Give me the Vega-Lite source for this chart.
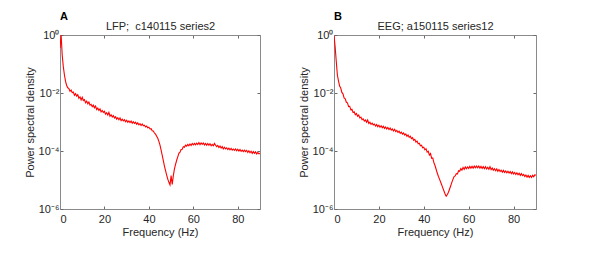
{
  "$schema": "https://vega.github.io/schema/vega-lite/v6.json",
  "background": "white",
  "padding": {"left": 24, "top": 11, "right": 5, "bottom": 5},
  "bounds": "flush",
  "spacing": 74,
  "config": {
    "font": "Liberation Sans",
    "view": {"stroke": null},
    "axis": {
      "grid": false,
      "domainColor": "#8a8a8a",
      "domainWidth": 1,
      "tickColor": "#6a6a6a",
      "tickSize": -3,
      "labelColor": "#262626",
      "titleColor": "#262626",
      "labelFontSize": 11,
      "titleFontSize": 11,
      "titleFontWeight": "normal",
      "labelFont": "Liberation Sans",
      "titleFont": "Liberation Sans"
    },
    "title": {"font": "Liberation Sans", "fontSize": 11, "fontWeight": "bold", "color": "#000000", "anchor": "start", "frame": "group", "baseline": "alphabetic", "offset": 0}
  },
  "datasets": {
    "lfp": [
      {"f":0,"psd":0.355},{"f":0.5,"psd":1.0},{"f":1,"psd":0.2},{"f":1.5,"psd":0.07943},{"f":2,"psd":0.04169},{"f":2.5,"psd":0.02512},{"f":3,"psd":0.0182},{"f":3.5,"psd":0.01514},{"f":4,"psd":0.01413},{"f":4.5,"psd":0.01148},
      {"f":5,"psd":0.01259},{"f":5.5,"psd":0.01023},{"f":6,"psd":0.01072},{"f":6.5,"psd":8.318e-3},{"f":7,"psd":9.55e-3},{"f":7.5,"psd":7.762e-3},{"f":8,"psd":8.71e-3},{"f":8.5,"psd":6.607e-3},{"f":9,"psd":7.413e-3},{"f":9.5,"psd":5.754e-3},
      {"f":10,"psd":7.079e-3},{"f":10.5,"psd":5.495e-3},{"f":11,"psd":5.888e-3},{"f":11.5,"psd":4.571e-3},{"f":12,"psd":5.248e-3},{"f":12.5,"psd":4.266e-3},{"f":13,"psd":4.898e-3},{"f":13.5,"psd":3.802e-3},{"f":14,"psd":4.074e-3},{"f":14.5,"psd":3.388e-3},
      {"f":15,"psd":3.802e-3},{"f":15.5,"psd":3.09e-3},{"f":16,"psd":3.548e-3},{"f":16.5,"psd":2.692e-3},{"f":17,"psd":3.02e-3},{"f":17.5,"psd":2.512e-3},{"f":18,"psd":2.818e-3},{"f":18.5,"psd":2.239e-3},{"f":19,"psd":2.512e-3},{"f":19.5,"psd":2.138e-3},
      {"f":20,"psd":2.344e-3},{"f":20.5,"psd":1.862e-3},{"f":21,"psd":2.089e-3},{"f":21.5,"psd":1.738e-3},{"f":22,"psd":2.138e-3},{"f":22.5,"psd":1.585e-3},{"f":23,"psd":1.778e-3},{"f":23.5,"psd":1.479e-3},{"f":24,"psd":1.66e-3},{"f":24.5,"psd":1.38e-3},
      {"f":25,"psd":1.514e-3},{"f":25.5,"psd":1.259e-3},{"f":26,"psd":1.413e-3},{"f":26.5,"psd":1.202e-3},{"f":27,"psd":1.38e-3},{"f":27.5,"psd":1.122e-3},{"f":28,"psd":1.259e-3},{"f":28.5,"psd":1.096e-3},{"f":29,"psd":1.202e-3},{"f":29.5,"psd":1.023e-3},
      {"f":30,"psd":1.148e-3},{"f":30.5,"psd":9.772e-4},{"f":31,"psd":1.096e-3},{"f":31.5,"psd":9.55e-4},{"f":32,"psd":1.072e-3},{"f":32.5,"psd":9.12e-4},{"f":33,"psd":1.023e-3},{"f":33.5,"psd":8.913e-4},{"f":34,"psd":9.772e-4},{"f":34.5,"psd":8.318e-4},
      {"f":35,"psd":9.333e-4},{"f":35.5,"psd":7.943e-4},{"f":36,"psd":8.71e-4},{"f":36.5,"psd":7.586e-4},{"f":37,"psd":8.511e-4},{"f":37.5,"psd":7.413e-4},{"f":38,"psd":7.762e-4},{"f":38.5,"psd":6.761e-4},{"f":39,"psd":7.244e-4},{"f":39.5,"psd":6.31e-4},
      {"f":40,"psd":6.607e-4},{"f":40.5,"psd":5.754e-4},{"f":41,"psd":5.888e-4},{"f":41.5,"psd":5.012e-4},{"f":42,"psd":4.898e-4},{"f":42.5,"psd":4.169e-4},{"f":43,"psd":3.802e-4},{"f":43.5,"psd":3.236e-4},{"f":44,"psd":2.754e-4},{"f":44.5,"psd":2.138e-4},
      {"f":45,"psd":1.585e-4},{"f":45.5,"psd":1.072e-4},{"f":46,"psd":7.079e-5},{"f":46.5,"psd":4.677e-5},{"f":47,"psd":3.02e-5},{"f":47.5,"psd":2.089e-5},{"f":48,"psd":1.479e-5},{"f":48.5,"psd":1.072e-5},{"f":49,"psd":8.318e-6},{"f":49.5,"psd":6.761e-6},
      {"f":50,"psd":1.413e-5},{"f":50.5,"psd":7.079e-6},{"f":51,"psd":1.413e-5},{"f":51.5,"psd":2.399e-5},{"f":52,"psd":3.467e-5},{"f":52.5,"psd":4.786e-5},{"f":53,"psd":6.31e-5},{"f":53.5,"psd":8.318e-5},{"f":54,"psd":9.12e-5},{"f":54.5,"psd":1.122e-4},
      {"f":55,"psd":1.148e-4},{"f":55.5,"psd":1.413e-4},{"f":56,"psd":1.349e-4},{"f":56.5,"psd":1.585e-4},{"f":57,"psd":1.479e-4},{"f":57.5,"psd":1.698e-4},{"f":58,"psd":1.514e-4},{"f":58.5,"psd":1.738e-4},{"f":59,"psd":1.549e-4},{"f":59.5,"psd":1.82e-4},
      {"f":60,"psd":1.622e-4},{"f":60.5,"psd":1.82e-4},{"f":61,"psd":1.622e-4},{"f":61.5,"psd":1.862e-4},{"f":62,"psd":1.66e-4},{"f":62.5,"psd":1.95e-4},{"f":63,"psd":1.66e-4},{"f":63.5,"psd":1.905e-4},{"f":64,"psd":1.698e-4},{"f":64.5,"psd":1.905e-4},
      {"f":65,"psd":1.622e-4},{"f":65.5,"psd":1.82e-4},{"f":66,"psd":1.585e-4},{"f":66.5,"psd":1.82e-4},{"f":67,"psd":1.585e-4},{"f":67.5,"psd":1.778e-4},{"f":68,"psd":1.514e-4},{"f":68.5,"psd":1.698e-4},{"f":69,"psd":1.514e-4},{"f":69.5,"psd":1.82e-4},
      {"f":70,"psd":1.585e-4},{"f":70.5,"psd":1.413e-4},{"f":71,"psd":1.549e-4},{"f":71.5,"psd":1.318e-4},{"f":72,"psd":1.479e-4},{"f":72.5,"psd":1.259e-4},{"f":73,"psd":1.413e-4},{"f":73.5,"psd":1.175e-4},{"f":74,"psd":1.349e-4},{"f":74.5,"psd":1.175e-4},
      {"f":75,"psd":1.288e-4},{"f":75.5,"psd":1.122e-4},{"f":76,"psd":1.259e-4},{"f":76.5,"psd":1.096e-4},{"f":77,"psd":1.23e-4},{"f":77.5,"psd":1.072e-4},{"f":78,"psd":1.175e-4},{"f":78.5,"psd":1.047e-4},{"f":79,"psd":1.175e-4},{"f":79.5,"psd":1.023e-4},
      {"f":80,"psd":1.148e-4},{"f":80.5,"psd":1.0e-4},{"f":81,"psd":1.122e-4},{"f":81.5,"psd":9.772e-5},{"f":82,"psd":1.072e-4},{"f":82.5,"psd":9.55e-5},{"f":83,"psd":1.072e-4},{"f":83.5,"psd":9.55e-5},{"f":84,"psd":1.047e-4},{"f":84.5,"psd":8.913e-5},
      {"f":85,"psd":1.023e-4},{"f":85.5,"psd":8.71e-5},{"f":86,"psd":9.772e-5},{"f":86.5,"psd":8.318e-5},{"f":87,"psd":9.55e-5},{"f":87.5,"psd":8.318e-5},{"f":88,"psd":9.333e-5},{"f":88.5,"psd":7.943e-5},{"f":89,"psd":8.913e-5},{"f":89.5,"psd":7.943e-5},
      {"f":90,"psd":8.318e-5}
    ],
    "eeg": [
      {"f":0,"psd":0.955},{"f":0.5,"psd":0.398},{"f":1,"psd":0.1259},{"f":1.5,"psd":0.04169},{"f":2,"psd":0.0263},{"f":2.5,"psd":0.01738},{"f":3,"psd":0.01479},{"f":3.5,"psd":0.01047},{"f":4,"psd":9.333e-3},{"f":4.5,"psd":6.761e-3},
      {"f":5,"psd":6.31e-3},{"f":5.5,"psd":4.786e-3},{"f":6,"psd":4.571e-3},{"f":6.5,"psd":3.388e-3},{"f":7,"psd":3.467e-3},{"f":7.5,"psd":2.63e-3},{"f":8,"psd":2.754e-3},{"f":8.5,"psd":2.138e-3},{"f":9,"psd":2.239e-3},{"f":9.5,"psd":1.778e-3},
      {"f":10,"psd":1.95e-3},{"f":10.5,"psd":1.585e-3},{"f":11,"psd":1.738e-3},{"f":11.5,"psd":1.38e-3},{"f":12,"psd":1.479e-3},{"f":12.5,"psd":1.202e-3},{"f":13,"psd":1.288e-3},{"f":13.5,"psd":1.072e-3},{"f":14,"psd":1.175e-3},{"f":14.5,"psd":9.772e-4},
      {"f":15,"psd":1.175e-3},{"f":15.5,"psd":8.913e-4},{"f":16,"psd":9.772e-4},{"f":16.5,"psd":8.318e-4},{"f":17,"psd":9.12e-4},{"f":17.5,"psd":7.943e-4},{"f":18,"psd":8.511e-4},{"f":18.5,"psd":7.244e-4},{"f":19,"psd":8.128e-4},{"f":19.5,"psd":6.918e-4},
      {"f":20,"psd":7.762e-4},{"f":20.5,"psd":6.607e-4},{"f":21,"psd":7.413e-4},{"f":21.5,"psd":6.31e-4},{"f":22,"psd":7.079e-4},{"f":22.5,"psd":6.026e-4},{"f":23,"psd":6.761e-4},{"f":23.5,"psd":5.754e-4},{"f":24,"psd":6.457e-4},{"f":24.5,"psd":5.495e-4},
      {"f":25,"psd":6.166e-4},{"f":25.5,"psd":5.248e-4},{"f":26,"psd":5.754e-4},{"f":26.5,"psd":4.898e-4},{"f":27,"psd":5.623e-4},{"f":27.5,"psd":4.677e-4},{"f":28,"psd":5.129e-4},{"f":28.5,"psd":4.365e-4},{"f":29,"psd":4.786e-4},{"f":29.5,"psd":4.074e-4},
      {"f":30,"psd":4.467e-4},{"f":30.5,"psd":3.802e-4},{"f":31,"psd":4.169e-4},{"f":31.5,"psd":3.548e-4},{"f":32,"psd":3.89e-4},{"f":32.5,"psd":3.236e-4},{"f":33,"psd":3.548e-4},{"f":33.5,"psd":2.951e-4},{"f":34,"psd":3.236e-4},{"f":34.5,"psd":2.692e-4},
      {"f":35,"psd":2.884e-4},{"f":35.5,"psd":2.344e-4},{"f":36,"psd":2.512e-4},{"f":36.5,"psd":2.042e-4},{"f":37,"psd":2.188e-4},{"f":37.5,"psd":1.778e-4},{"f":38,"psd":1.862e-4},{"f":38.5,"psd":1.514e-4},{"f":39,"psd":1.585e-4},{"f":39.5,"psd":1.288e-4},
      {"f":40,"psd":1.349e-4},{"f":40.5,"psd":1.096e-4},{"f":41,"psd":1.202e-4},{"f":41.5,"psd":9.12e-5},{"f":42,"psd":9.772e-5},{"f":42.5,"psd":7.244e-5},{"f":43,"psd":8.128e-5},{"f":43.5,"psd":5.623e-5},{"f":44,"psd":5.754e-5},{"f":44.5,"psd":3.981e-5},
      {"f":45,"psd":3.162e-5},{"f":45.5,"psd":2.344e-5},{"f":46,"psd":1.738e-5},{"f":46.5,"psd":1.349e-5},{"f":47,"psd":1.072e-5},{"f":47.5,"psd":8.511e-6},{"f":48,"psd":6.761e-6},{"f":48.5,"psd":5.248e-6},{"f":49,"psd":4.169e-6},{"f":49.5,"psd":3.311e-6},
      {"f":50,"psd":2.754e-6},{"f":50.5,"psd":3.162e-6},{"f":51,"psd":3.802e-6},{"f":51.5,"psd":4.898e-6},{"f":52,"psd":6.31e-6},{"f":52.5,"psd":8.318e-6},{"f":53,"psd":1.047e-5},{"f":53.5,"psd":1.318e-5},{"f":54,"psd":1.38e-5},{"f":54.5,"psd":1.66e-5},
      {"f":55,"psd":1.622e-5},{"f":55.5,"psd":2.089e-5},{"f":56,"psd":1.995e-5},{"f":56.5,"psd":2.455e-5},{"f":57,"psd":2.188e-5},{"f":57.5,"psd":2.692e-5},{"f":58,"psd":2.344e-5},{"f":58.5,"psd":2.818e-5},{"f":59,"psd":2.455e-5},{"f":59.5,"psd":2.818e-5},
      {"f":60,"psd":2.512e-5},{"f":60.5,"psd":2.951e-5},{"f":61,"psd":2.57e-5},{"f":61.5,"psd":2.951e-5},{"f":62,"psd":2.57e-5},{"f":62.5,"psd":3.02e-5},{"f":63,"psd":2.63e-5},{"f":63.5,"psd":3.02e-5},{"f":64,"psd":2.63e-5},{"f":64.5,"psd":3.02e-5},
      {"f":65,"psd":2.57e-5},{"f":65.5,"psd":2.951e-5},{"f":66,"psd":2.512e-5},{"f":66.5,"psd":2.884e-5},{"f":67,"psd":2.455e-5},{"f":67.5,"psd":2.884e-5},{"f":68,"psd":2.399e-5},{"f":68.5,"psd":2.754e-5},{"f":69,"psd":2.344e-5},{"f":69.5,"psd":2.884e-5},
      {"f":70,"psd":2.291e-5},{"f":70.5,"psd":2.57e-5},{"f":71,"psd":2.188e-5},{"f":71.5,"psd":2.455e-5},{"f":72,"psd":2.089e-5},{"f":72.5,"psd":2.399e-5},{"f":73,"psd":1.995e-5},{"f":73.5,"psd":2.291e-5},{"f":74,"psd":1.95e-5},{"f":74.5,"psd":2.188e-5},
      {"f":75,"psd":1.862e-5},{"f":75.5,"psd":2.138e-5},{"f":76,"psd":1.82e-5},{"f":76.5,"psd":2.042e-5},{"f":77,"psd":1.778e-5},{"f":77.5,"psd":1.995e-5},{"f":78,"psd":1.738e-5},{"f":78.5,"psd":1.95e-5},{"f":79,"psd":1.66e-5},{"f":79.5,"psd":1.905e-5},
      {"f":80,"psd":1.622e-5},{"f":80.5,"psd":1.82e-5},{"f":81,"psd":1.549e-5},{"f":81.5,"psd":1.778e-5},{"f":82,"psd":1.514e-5},{"f":82.5,"psd":1.698e-5},{"f":83,"psd":1.445e-5},{"f":83.5,"psd":1.66e-5},{"f":84,"psd":1.413e-5},{"f":84.5,"psd":1.549e-5},
      {"f":85,"psd":1.318e-5},{"f":85.5,"psd":1.479e-5},{"f":86,"psd":1.259e-5},{"f":86.5,"psd":1.445e-5},{"f":87,"psd":1.23e-5},{"f":87.5,"psd":1.413e-5},{"f":88,"psd":1.23e-5},{"f":88.5,"psd":1.445e-5},{"f":89,"psd":1.288e-5},{"f":89.5,"psd":1.514e-5},
      {"f":90,"psd":1.445e-5}
    ]
  },
  "hconcat": [
    {
      "width": 200,
      "height": 174,
      "title": {"text": "A", "dy": 6},
      "data": {"name": "lfp"},
      "layer": [
        {
          "mark": {"type": "line", "color": "#ff0000", "strokeWidth": 1.1, "clip": true},
          "encoding": {
            "x": {"field": "f", "type": "quantitative", "scale": {"domain": [0, 90], "nice": false, "zero": false},
                  "axis": {"title": "Frequency (Hz)", "values": [0, 20, 40, 60, 80], "labelPadding": 7.5, "titlePadding": 2}},
            "y": {"field": "psd", "type": "quantitative", "scale": {"type": "log", "domain": [0.000001, 1], "nice": false},
                  "axis": {"title": "Power spectral density", "values": [0.000001, 0.0001, 0.01, 1], "labelPadding": 4, "titlePadding": 3,
                           "labelExpr": "datum.value > 0.5 ? '10⁰' : datum.value > 0.005 ? '10⁻²' : datum.value > 0.00005 ? '10⁻⁴' : '10⁻⁶'"}}
          }
        },
        {
          "mark": {"type": "line", "opacity": 0},
          "encoding": {
            "x": {"field": "f", "type": "quantitative", "scale": {"domain": [0, 90], "nice": false, "zero": false},
                  "axis": {"orient": "top", "title": "LFP;\u00a0 c140115 series2", "values": [0, 20, 40, 60, 80], "labels": false, "titleY": -6, "titleBaseline": "alphabetic"}},
            "y": {"field": "psd", "type": "quantitative", "scale": {"type": "log", "domain": [0.000001, 1], "nice": false},
                  "axis": {"orient": "right", "title": null, "values": [0.000001, 0.0001, 0.01, 1], "labels": false}}
          }
        }
      ],
      "resolve": {"axis": {"x": "independent", "y": "independent"}}
    },
    {
      "width": 202,
      "height": 174,
      "title": {"text": "B", "dy": 6},
      "data": {"name": "eeg"},
      "layer": [
        {
          "mark": {"type": "line", "color": "#ff0000", "strokeWidth": 1.1, "clip": true},
          "encoding": {
            "x": {"field": "f", "type": "quantitative", "scale": {"domain": [0, 90], "nice": false, "zero": false},
                  "axis": {"title": "Frequency (Hz)", "values": [0, 20, 40, 60, 80], "labelPadding": 7.5, "titlePadding": 2}},
            "y": {"field": "psd", "type": "quantitative", "scale": {"type": "log", "domain": [0.000001, 1], "nice": false},
                  "axis": {"title": "Power spectral density", "values": [0.000001, 0.0001, 0.01, 1], "labelPadding": 4, "titlePadding": 3,
                           "labelExpr": "datum.value > 0.5 ? '10⁰' : datum.value > 0.005 ? '10⁻²' : datum.value > 0.00005 ? '10⁻⁴' : '10⁻⁶'"}}
          }
        },
        {
          "mark": {"type": "line", "opacity": 0},
          "encoding": {
            "x": {"field": "f", "type": "quantitative", "scale": {"domain": [0, 90], "nice": false, "zero": false},
                  "axis": {"orient": "top", "title": "EEG; a150115 series12", "values": [0, 20, 40, 60, 80], "labels": false, "titleY": -6, "titleBaseline": "alphabetic"}},
            "y": {"field": "psd", "type": "quantitative", "scale": {"type": "log", "domain": [0.000001, 1], "nice": false},
                  "axis": {"orient": "right", "title": null, "values": [0.000001, 0.0001, 0.01, 1], "labels": false}}
          }
        }
      ],
      "resolve": {"axis": {"x": "independent", "y": "independent"}}
    }
  ]
}
